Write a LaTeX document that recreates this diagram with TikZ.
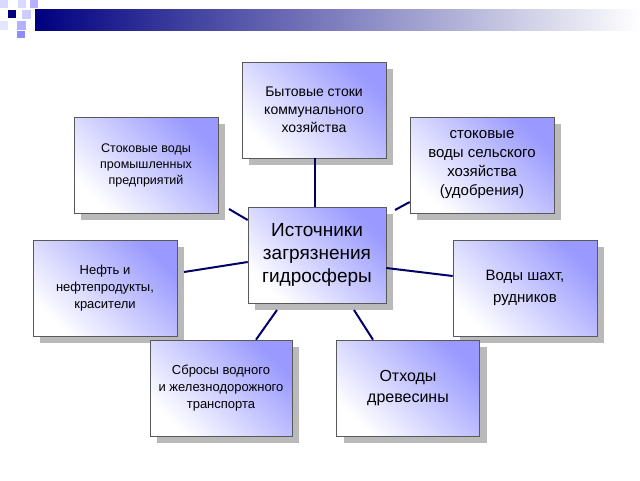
\documentclass[tikz,border=0pt]{standalone}
\usepackage{fontspec}
\setmainfont{Liberation Sans}
\begin{document}
\begin{tikzpicture}[x=1pt,y=-1pt,
  box/.style={draw=gray!70!black,line width=0.6pt,align=center,minimum width=144pt,minimum height=96pt,inner sep=1pt,
    left color=white,right color=blue!40!white,shading angle=135,
    preaction={fill=gray!55,transform canvas={shift={(7pt,-7pt)}}}},
  link/.style={draw=blue!40!black,line width=2pt}]
\useasboundingbox (0,0) rectangle (640,480);
% header
\shade[left color=blue!50!black,right color=white] (35,9) rectangle (640,30);
\fill[blue!50!black] (8,10) rectangle (16,18);
\fill[blue!15] (0,0) rectangle (8,8);
\fill[blue!15] (18,0) rectangle (26,8);
\fill[blue!30] (30,0) rectangle (38,8);
\fill[blue!20] (22,10) rectangle (31,19);
\fill[blue!30] (17,21) rectangle (26,30);
\fill[blue!45] (17,31) rectangle (25,38);
\fill[blue!10] (0,21) rectangle (8,30);
\node[box,minimum width=138pt,font=\fontsize{19}{23}\selectfont] (m) at (317,255) {Источники\\загрязнения\\ гидросферы};
\node[box,font=\fontsize{14}{18}\selectfont] (t) at (314,110) {Бытовые стоки\\коммунального\\хозяйства};
\node[box,font=\fontsize{12.5}{16}\selectfont] (ul) at (146,165) {Стоковые воды\\промышленных\\предприятий};
\node[box,font=\fontsize{15}{19}\selectfont] (ur) at (482,165) {стоковые\\воды сельского\\хозяйства\\(удобрения)};
\node[box,font=\fontsize{13}{17}\selectfont] (l) at (105,288) {Нефть и\\нефтепродукты,\\красители};
\node[box,font=\fontsize{15}{22}\selectfont] (r) at (525,288) {Воды шахт,\\рудников};
\node[box,minimum width=142pt,font=\fontsize{13}{17}\selectfont] (bl) at (221,388) {Сбросы водного\\и железнодорожного\\транспорта};
\node[box,minimum width=143pt,font=\fontsize{16}{21}\selectfont] (br) at (408,388) {Отходы\\древесины};
\path[link] (t.south -| 315,0) -- (m.north -| 315,0);
\path[link] (229,209) -- (m.north west |- 0,220);
\path[link] (ur.south west |- 0,202) -- (395,210);
\path[link] (184,272) -- (m.west |- 0,262);
\path[link] (m.east |- 0,268) -- (r.west |- 0,276);
\path[link] (277,310) -- (bl.north -| 256,0);
\path[link] (354,310) -- (br.north -| 373,0);
\end{tikzpicture}
\end{document}
